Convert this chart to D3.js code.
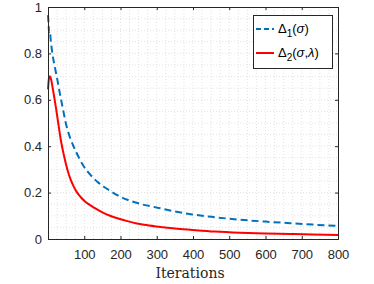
<!DOCTYPE html>
<html><head><meta charset="utf-8">
<script src="https://cdn.jsdelivr.net/npm/d3@7"></script>
<style>body{margin:0;background:#fff}svg{display:block}</style>
</head><body>
<script>
// Data
const delta1 = [[0,0.965],[2,0.915],[3,0.89],[5,0.895],[8,0.85],[12,0.80],[19,0.74],[26,0.685],[33,0.625],[40,0.57],[49,0.50],[58,0.45],[67,0.412],[76,0.38],[85,0.352],[96,0.32],[108,0.293],[122,0.268],[136,0.247],[154,0.225],[173,0.206],[195,0.186],[219,0.169],[242,0.157],[265,0.147],[290,0.139],[311,0.132],[350,0.119],[398,0.106],[460,0.094],[530,0.083],[600,0.075],[668,0.068],[730,0.062],[800,0.056]];
const delta2 = [[0,0.645],[2,0.685],[4,0.70],[6,0.70],[9,0.685],[13,0.65],[17,0.613],[22,0.565],[27,0.513],[35,0.43],[44,0.36],[53,0.302],[62,0.258],[71,0.226],[80,0.201],[90,0.181],[100,0.165],[113,0.149],[127,0.135],[150,0.115],[173,0.099],[196,0.087],[219,0.077],[242,0.068],[265,0.061],[311,0.052],[350,0.045],[398,0.039],[460,0.032],[530,0.027],[600,0.024],[668,0.0215],[730,0.019],[800,0.017]];
const xTicks = [100,200,300,400,500,600,700,800];
const yTicks = [0,0.2,0.4,0.6,0.8,1];
const xLabel = "Iterations";

const W=374,H=284, L=48,R=338,T=7,B=239;
const svg=d3.select("body").append("svg").attr("width",W).attr("height",H);
const x=d3.scaleLinear().domain([0,800]).range([L,R]);
const y=d3.scaleLinear().domain([0,1]).range([B,T]);
const axisCol="#262626";

// grid (minor + major), dotted
const g=svg.append("g");
g.selectAll(".gx").data(d3.range(25,800,25)).join("line")
 .attr("x1",d=>x(d)).attr("x2",d=>x(d)).attr("y1",T).attr("y2",B)
 .attr("stroke","#e2e2e2").attr("stroke-width",1).attr("stroke-dasharray","1,2");
g.selectAll(".gy").data(d3.range(1,20).map(i=>i*0.05)).join("line")
 .attr("y1",d=>y(d)).attr("y2",d=>y(d)).attr("x1",L).attr("x2",R)
 .attr("stroke","#e2e2e2").attr("stroke-width",1).attr("stroke-dasharray","1,2");

// curves
const line=d3.line().x(d=>x(d[0])).y(d=>y(d[1])).curve(d3.curveMonotoneX);
svg.append("path").datum(delta2).attr("d",line).attr("fill","none")
 .attr("stroke","#FF0000").attr("stroke-width",2);
svg.append("path").datum(delta1).attr("d",line).attr("fill","none")
 .attr("stroke","#0072BD").attr("stroke-width",2).attr("stroke-dasharray","7,4");

// axes
const font="'Liberation Sans', Arial, sans-serif";
const xa=svg.append("g").attr("transform",`translate(0,${B})`)
 .call(d3.axisBottom(x).tickValues(xTicks).tickSize(-3).tickPadding(11).tickFormat(d3.format("d")));
const ya=svg.append("g").attr("transform",`translate(${L},0)`)
 .call(d3.axisLeft(y).tickValues(yTicks).tickSize(-3).tickPadding(6).tickFormat(d=>d===0||d===1?String(d):d3.format(".1f")(d)));
const xt=svg.append("g").attr("transform",`translate(0,${T})`)
 .call(d3.axisTop(x).tickValues(xTicks).tickSize(-3).tickFormat(""));
const yr=svg.append("g").attr("transform",`translate(${R},0)`)
 .call(d3.axisRight(y).tickValues(yTicks).tickSize(-3).tickFormat(""));
[xa,ya,xt,yr].forEach(a=>{
  a.select(".domain").attr("stroke",axisCol).attr("stroke-width",1);
  a.selectAll(".tick line").attr("stroke",axisCol);
  a.selectAll("text").attr("fill",axisCol).style("font-family",font).style("font-size","13px");
});

svg.append("text").attr("x",190).attr("y",278).attr("text-anchor","middle")
 .attr("fill",axisCol).style("font-family","'DejaVu Serif', 'Liberation Serif', serif").style("font-size","14px").text(xLabel);

// legend
const lg=svg.append("g");
lg.append("rect").attr("x",253.5).attr("y",15.5).attr("width",79).attr("height",53)
 .attr("fill","#fff").attr("stroke",axisCol).attr("stroke-width",1);
lg.append("line").attr("x1",256).attr("x2",274).attr("y1",29).attr("y2",29)
 .attr("stroke","#0072BD").attr("stroke-width",2).attr("stroke-dasharray","5,3");
lg.append("line").attr("x1",256).attr("x2",274).attr("y1",53).attr("y2",53)
 .attr("stroke","#FF0000").attr("stroke-width",2);
const t1=lg.append("text").attr("x",278).attr("y",33).attr("fill","#000").style("font-family",font).style("font-size","13px");
t1.append("tspan").text("Δ");
t1.append("tspan").attr("dy",4).style("font-size","10px").text("1");
t1.append("tspan").attr("dy",-4).text("(");
t1.append("tspan").style("font-style","italic").text("σ");
t1.append("tspan").text(")");
const t2=lg.append("text").attr("x",278).attr("y",57).attr("fill","#000").style("font-family",font).style("font-size","13px");
t2.append("tspan").text("Δ");
t2.append("tspan").attr("dy",4).style("font-size","10px").text("2");
t2.append("tspan").attr("dy",-4).text("(");
t2.append("tspan").style("font-style","italic").text("σ");
t2.append("tspan").text(",");
t2.append("tspan").style("font-style","italic").text("λ");
t2.append("tspan").text(")");
</script>
</body></html>
